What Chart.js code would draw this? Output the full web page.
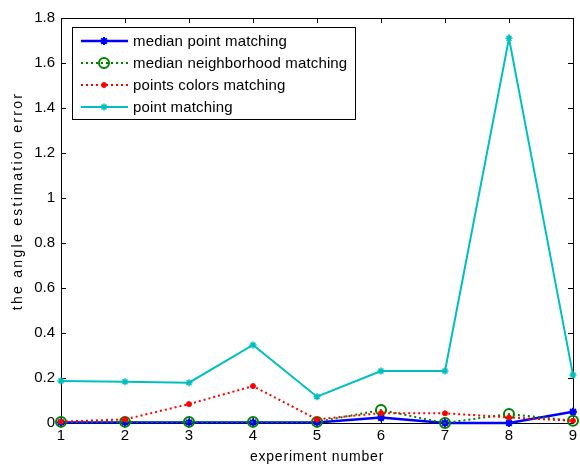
<!DOCTYPE html>
<html>
<head>
<meta charset="utf-8">
<script src="https://cdn.jsdelivr.net/npm/chart.js@4.4.1/dist/chart.umd.min.js"></script>
<style>
  html, body { margin: 0; background: #fff; }
  #wrap { width: 580px; height: 465px; }
</style>
</head>
<body>
<div id="wrap"><canvas id="errChart"></canvas></div>
<script>
// values
const experiments = [1, 2, 3, 4, 5, 6, 7, 8, 9];
const medianPoint = [0.002, 0.002, 0.002, 0.002, 0.002, 0.024, 0.0, 0.0, 0.05];
const medianNeighborhood = [0.005, 0.005, 0.005, 0.005, 0.005, 0.058, 0.0, 0.04, 0.01];
const pointsColors = [0.006, 0.016, 0.084, 0.164, 0.016, 0.044, 0.043, 0.025, 0.01];
const pointMatching = [0.187, 0.183, 0.179, 0.347, 0.117, 0.231, 0.231, 1.71, 0.213];
const yTicks = [0, 0.2, 0.4, 0.6, 0.8, 1, 1.2, 1.4, 1.6, 1.8];
const xTitle = 'experiment number';
const yTitle = 'the angle estimation error';

const FONT = 'Liberation Sans, Arial, sans-serif';

// box around the axes with inward ticks, like matlab
const matlabFrame = {
  id: 'matlabFrame',
  beforeDatasetsDraw(chart) {
    const { ctx, chartArea: a, scales: { x, y } } = chart;
    ctx.save();
    ctx.strokeStyle = '#000';
    ctx.lineWidth = 1;
    ctx.strokeRect(Math.round(a.left) + 0.5, Math.round(a.top) + 0.5,
                   Math.round(a.width), Math.round(a.height));
    ctx.beginPath();
    x.ticks.forEach((t, i) => {
      const px = Math.round(x.getPixelForTick(i)) + 0.5;
      ctx.moveTo(px, a.bottom); ctx.lineTo(px, a.bottom - 5);
      ctx.moveTo(px, a.top); ctx.lineTo(px, a.top + 5);
    });
    y.ticks.forEach((t, i) => {
      const py = Math.round(y.getPixelForTick(i)) + 0.5;
      ctx.moveTo(a.left, py); ctx.lineTo(a.left + 5, py);
      ctx.moveTo(a.right, py); ctx.lineTo(a.right - 5, py);
    });
    ctx.stroke();

    // axis titles, spaced out the way matlab renders them
    ctx.fillStyle = '#000';
    ctx.font = '14px ' + FONT;
    ctx.textAlign = 'center';
    ctx.textBaseline = 'alphabetic';
    ctx.letterSpacing = '0.8px';
    ctx.fillText(xTitle, (a.left + a.right) / 2, 461);
    ctx.save();
    ctx.translate(22, 201);
    ctx.rotate(-Math.PI / 2);
    ctx.letterSpacing = '2.3px';
    ctx.fillText(yTitle, 0, 0);
    ctx.restore();
    ctx.restore();
  }
};

// legend box in the upper left corner of the axes
const matlabLegend = {
  id: 'matlabLegend',
  afterDraw(chart) {
    const { ctx, chartArea: a } = chart;
    const bx = a.left + 11, by = a.top + 9, bw = 283, bh = 92;
    ctx.save();
    ctx.fillStyle = '#fff';
    ctx.fillRect(bx, by, bw, bh);
    ctx.strokeStyle = '#000';
    ctx.lineWidth = 1;
    ctx.strokeRect(bx + 0.5, by + 0.5, bw, bh);
    ctx.font = '15px ' + FONT;
    ctx.letterSpacing = '0.15px';
    ctx.textBaseline = 'middle';
    chart.data.datasets.forEach((ds, i) => {
      const yy = by + 14 + i * 22;
      ctx.strokeStyle = ds.borderColor;
      ctx.lineWidth = ds.borderWidth;
      ctx.setLineDash(ds.borderDash || []);
      ctx.beginPath();
      ctx.moveTo(bx + 9, yy);
      ctx.lineTo(bx + 56, yy);
      ctx.stroke();
      ctx.setLineDash([]);
      ctx.fillStyle = ds.pointBackgroundColor;
      ctx.lineWidth = ds.pointBorderWidth;
      Chart.helpers.drawPoint(ctx, {
        pointStyle: ds.pointStyle, radius: ds.pointRadius,
        rotation: 0, borderWidth: ds.pointBorderWidth
      }, bx + 32, yy);
      ctx.fillStyle = '#000';
      ctx.fillText(ds.label, bx + 61, yy + 1);
    });
    ctx.restore();
  }
};

const ctx = document.getElementById('errChart').getContext('2d');
const chart = new Chart(ctx, {
  type: 'line',
  data: {
    labels: experiments,
    datasets: [{
      label: 'median point matching',
      data: medianPoint,
      borderColor: '#0000ff',
      borderWidth: 2.5,
      pointStyle: 'star',
      pointRadius: 4,
      pointBorderWidth: 2,
      pointBorderColor: '#0000ff',
      pointBackgroundColor: '#0000ff',
      order: 3
    }, {
      label: 'median neighborhood matching',
      data: medianNeighborhood,
      borderColor: '#008000',
      borderWidth: 2,
      borderDash: [2, 3],
      pointStyle: 'circle',
      pointRadius: 5,
      pointBorderWidth: 2,
      pointBorderColor: '#008000',
      pointBackgroundColor: 'rgba(0,0,0,0)',
      order: 2
    }, {
      label: 'points colors matching',
      data: pointsColors,
      borderColor: '#ff0000',
      borderWidth: 2,
      borderDash: [2, 3],
      pointStyle: 'circle',
      pointRadius: 2.5,
      pointBorderWidth: 1,
      pointBorderColor: '#ff0000',
      pointBackgroundColor: '#ff0000',
      order: 1
    }, {
      label: 'point matching',
      data: pointMatching,
      borderColor: '#00bfbf',
      borderWidth: 2,
      pointStyle: 'star',
      pointRadius: 3.5,
      pointBorderWidth: 1.5,
      pointBorderColor: '#00bfbf',
      pointBackgroundColor: '#00bfbf',
      order: 0
    }]
  },
  options: {
    responsive: true,
    maintainAspectRatio: false,
    animation: false,
    clip: false,
    layout: { padding: { top: 18, right: 4, left: 0, bottom: 0 } },
    plugins: { legend: { display: false }, tooltip: { enabled: false } },
    scales: {
      x: {
        type: 'category',
        offset: false,
        grid: { display: false, drawTicks: false },
        border: { display: false },
        ticks: { color: '#000', font: { family: FONT, size: 15 }, padding: 4, maxRotation: 0 },
        afterFit: (s) => { s.height = 42; s.paddingLeft = 0; s.paddingRight = 0; }
      },
      y: {
        min: 0,
        max: 1.8,
        grid: { display: false, drawTicks: false },
        border: { display: false },
        afterBuildTicks: (s) => { s.ticks = yTicks.map(v => ({ value: v })); },
        ticks: { color: '#000', font: { family: FONT, size: 15 }, padding: 6,
                 callback: (v) => String(Number(v.toFixed(1))) },
        afterFit: (s) => { s.width = 61; }
      }
    }
  },
  plugins: [matlabFrame, matlabLegend]
});
</script>
</body>
</html>
